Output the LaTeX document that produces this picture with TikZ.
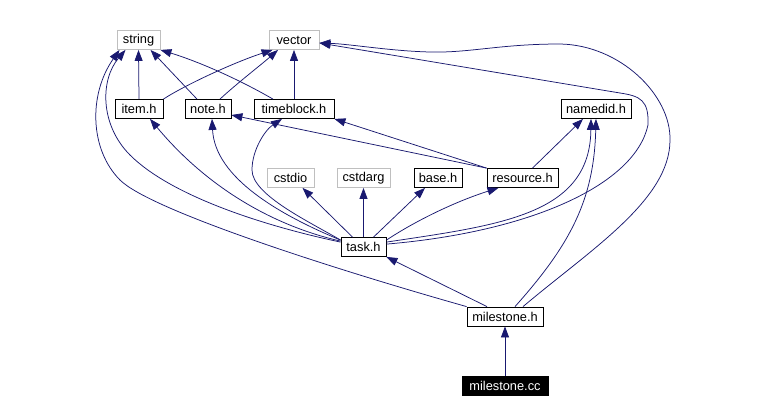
\documentclass[tikz,border=0pt]{standalone}
\usepackage{fontspec}
\setmainfont{Liberation Sans}
\usetikzlibrary{arrows.meta}
\definecolor{edgeblue}{HTML}{191970}
\definecolor{sysgray}{HTML}{BFBFBF}
\begin{document}
\begin{tikzpicture}[x=1pt,y=-1pt,
  box/.style={draw=black, line width=0.8pt, minimum height=19pt, inner sep=0pt,
    font=\fontsize{12.8}{14}\selectfont, fill=white},
  sysbox/.style={box, draw=sysgray},
  mainbox/.style={box, fill=black, text=white},
  dep/.style={draw=edgeblue, line width=0.75pt, -{Triangle[length=11pt,width=8pt]}}]
\useasboundingbox (0,0) rectangle (774,410);
\fill[white] (0,0) rectangle (774,410);

\node[sysbox, minimum width=43pt] (string) at (138.5,40) {string};
\node[sysbox, minimum width=50pt] (vector) at (294,40) {vector};
\node[box, minimum width=48pt] (item) at (139,109) {item.h};
\node[box, minimum width=46pt] (note) at (208,109) {note.h};
\node[box, minimum width=80pt] (timeblock) at (294,109) {timeblock.h};
\node[box, minimum width=70pt] (namedid) at (596,109) {namedid.h};
\node[sysbox, minimum width=47pt] (cstdio) at (290.5,178) {cstdio};
\node[sysbox, minimum width=53pt] (cstdarg) at (363.5,178) {cstdarg};
\node[box, minimum width=48pt] (base) at (438,178) {base.h};
\node[box, minimum width=71pt] (resource) at (522.5,178) {resource.h};
\node[box, minimum width=45pt] (task) at (363.5,247) {task.h};
\node[box, minimum width=76pt] (milestoneh) at (505,316.5) {milestone.h};
\node[mainbox, minimum width=86pt] (milestonecc) at (505,386) {milestone.cc};

\draw[dep] (item.north) -- (string.south);
\draw[dep] (item.north east) .. controls (185,85) and (235,62) .. ([shift={(4,0)}]vector.south west);
\draw[dep] ([shift={(-11,0)}]note.north) -- ([shift={(12,0)}]string.south);
\draw[dep] ([shift={(12,0)}]note.north) .. controls (235,85) and (262,64) .. ([shift={(-16,0)}]vector.south);
\draw[dep] ([shift={(-21,0)}]timeblock.north) .. controls (240,80) and (200,62) .. (string.south east);
\draw[dep] (timeblock.north) -- (vector.south);
\draw[dep] (resource.north west) -- ([shift={(0,6)}]note.east);
\draw[dep] (resource.north west) -- (timeblock.south east);
\draw[dep] ([shift={(10,0)}]resource.north) -- ([shift={(-13,0)}]namedid.south);

\draw[dep] ([shift={(0,5)}]task.north west) .. controls (260,225) and (170,195) .. (130,155)
  .. controls (100,125) and (100,80) .. ([shift={(-13,0)}]string.south);
\draw[dep] (milestoneh.north west) .. controls (330,268) and (150,210) .. (120,180)
  .. controls (90,150) and (88,95) .. ([shift={(-19,0)}]string.south);
\draw[dep] ([shift={(0,4)}]task.north west) .. controls (270,225) and (205,185) .. ([shift={(11,0)}]item.south);
\draw[dep] ([shift={(0,3)}]task.north west) .. controls (280,215) and (215,178) .. ([shift={(4,0)}]note.south);
\draw[dep] ([shift={(0,3)}]task.north west) .. controls (310,222) and (252,195) .. (252,170)
  .. controls (252,150) and (265,130) .. ([shift={(-12,0)}]timeblock.south);
\draw[dep] ([shift={(-11,0)}]task.north) -- ([shift={(12,0)}]cstdio.south);
\draw[dep] (task.north) -- (cstdarg.south);
\draw[dep] ([shift={(10,0)}]task.north) -- ([shift={(-13,0)}]base.south);
\draw[dep] ([shift={(0,3)}]task.north east) .. controls (420,218) and (460,200) .. ([shift={(-24,0)}]resource.south);
\draw[dep] ([shift={(0,5)}]task.north east) .. controls (500,225) and (590,215) .. ([shift={(-5,0)}]namedid.south);
\draw[dep] ([shift={(0,7)}]task.north east) .. controls (530,232) and (635,185) .. (648,125)
  .. controls (649,100) and (640,96) .. (620,93) -- ([shift={(0,3)}]vector.east);

\draw[dep] ([shift={(18,0)}]milestoneh.north) .. controls (590,250) and (670,200) .. (670,140)
  .. controls (671,95) and (620,45) .. (560,44) .. controls (500,44) and (470,53) .. (430,52)
  .. controls (390,51) and (350,44) .. ([shift={(0,3)}]vector.east);
\draw[dep] ([shift={(10,0)}]milestoneh.north) .. controls (570,245) and (594,200) .. (namedid.south);
\draw[dep] ([shift={(-18,0)}]milestoneh.north) -- (task.south east);
\draw[dep] (milestonecc.north) -- (milestoneh.south);
\end{tikzpicture}
\end{document}
